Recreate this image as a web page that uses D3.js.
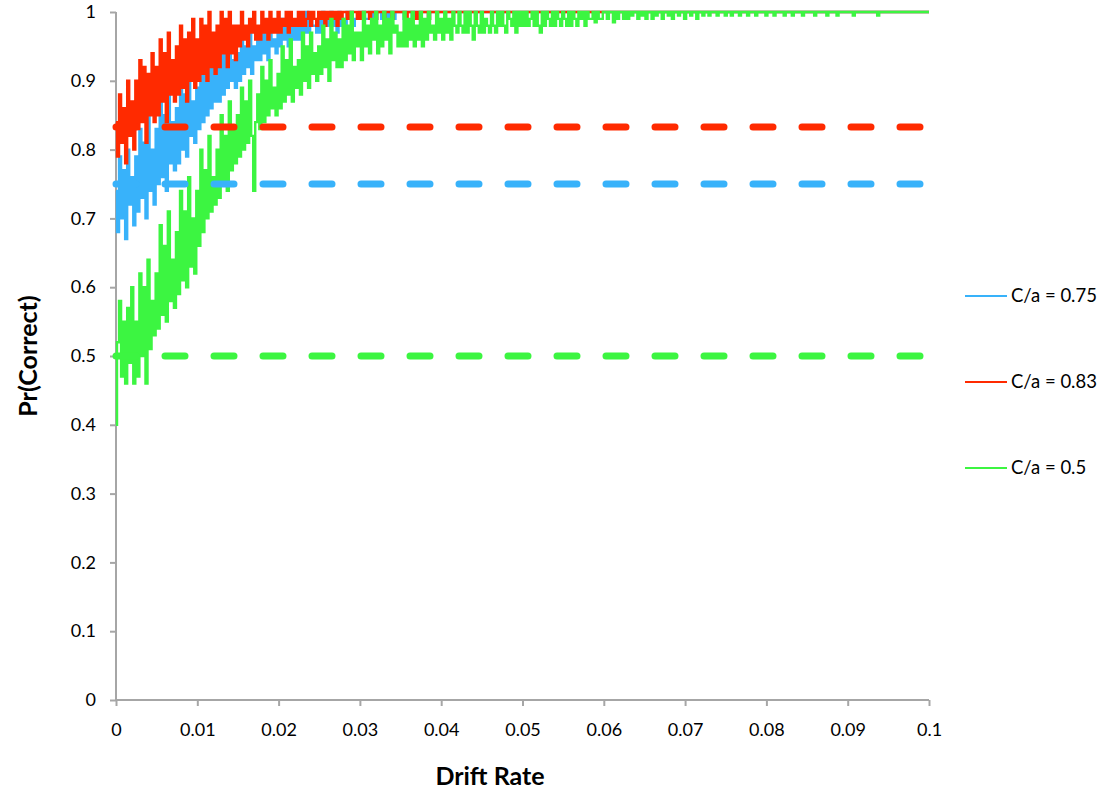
<!DOCTYPE html>
<html lang="en">
<head>
<meta charset="UTF-8">
<title>Pr(Correct) vs Drift Rate</title>
<script src="https://d3js.org/d3.v7.min.js"></script>
<style>
  body { margin: 0; background: #ffffff; }
  text { font-family: Lato, "Open Sans", sans-serif; fill: #000; }
  .axis-title { font-size: 25px; font-weight: bold; }
  .tick text { font-size: 18px; }
  .legend-label { font-size: 18.5px; }
</style>
</head>
<body>
<div id="chart"></div>
<script>
// x ticks and y ticks
const xTicks = [0, 0.01, 0.02, 0.03, 0.04, 0.05, 0.06, 0.07, 0.08, 0.09, 0.1];
const yTicks = [0, 0.1, 0.2, 0.3, 0.4, 0.5, 0.6, 0.7, 0.8, 0.9, 1];

// series, in drawing / legend order
const seriesNames = ["C/a = 0.75", "C/a = 0.83", "C/a = 0.5"];
const seriesColors = ["#38b2fa", "#ff2a00", "#3cf541"];
const thresholds = [0.75, 0.833, 0.5];

// dense samples every 0.00025 starting at 0
const denseStep = 0.00025;
const blueVals = [
  .74,.68,.79,.70,.77,.67,.80,.72,.76,.69,
  .79,.71,.83,.73,.81,.70,.85,.74,.80,.72,
  .83,.75,.87,.76,.85,.74,.88,.78,.84,.77,
  .86,.78,.90,.80,.88,.79,.91,.82,.87,.81,
  .89,.83,.93,.84,.91,.85,.94,.86,.92,.87,
  .92,.87,.95,.88,.94,.89,.96,.90,.93,.89,
  .94,.90,.96,.91,.95,.92,.97,.91,.95,.93,
  .96,.93,.98,.94,.97,.93,.98,.95,.96,.94,
  .97,.95,.99,.96,.98,.95,.99,.96,.98,.96,
  .98,.96,.99,.97,1,.97,.99,.98,.98,.97,
  .99,.97,1,.98,.99,.98,1,.98,.99,.97,
  1,.98,.99,.98,1,.99,1,.98,.99,.99,
  1,.99,1,.99,.99,1,.99,1,.99,1,
  1,.99,1,1,.99,1,1,.99,1,1,
  1,1,.99,1,1,1,.99,1,1,1,
  1,1,1,1,.99,1,1,1,1,1,
  1
];
const redVals = [
  .84,.79,.88,.81,.86,.78,.90,.82,.87,.80,
  .90,.83,.93,.84,.92,.81,.91,.85,.94,.84,
  .92,.85,.96,.87,.94,.84,.97,.88,.93,.87,
  .95,.88,.98,.89,.96,.87,.97,.90,.99,.89,
  .96,.90,.99,.91,.98,.90,1,.92,.97,.91,
  .98,.92,1,.94,.99,.92,1,.94,.98,.93,
  .98,.95,1,.96,.98,.95,.99,.97,1,.96,
  .98,.96,1,.97,.99,.96,1,.97,.99,.97,
  1,.97,.99,.98,1,.97,1,.98,.99,.98,
  1,.98,1,.98,.99,1,.98,1,.99,.98,
  1,.99,1,.98,1,.99,1,.99,1,.98,
  1,.99,1,1,.99,1,.99,1,1,.99,
  1,.99,1,1,1,.99,1,1,.99,1,
  1,1,.99,1,1,1,.99,1,1,1,
  1,1,1,.99,1,1,1,1,.99,1,
  1,1,1,1,.99,1,1,1,1,1,
  1
];
const greenVals = [
  .40,.52,.58,.47,.55,.46,.57,.49,.60,.46,
  .55,.47,.62,.50,.60,.46,.64,.51,.58,.53,
  .62,.54,.69,.56,.66,.55,.71,.58,.64,.57,
  .68,.59,.74,.61,.71,.60,.76,.63,.70,.62,
  .74,.66,.80,.68,.77,.70,.82,.71,.76,.72,
  .80,.73,.85,.75,.82,.74,.87,.77,.83,.78,
  .85,.79,.89,.80,.87,.81,.90,.82,.74,.84,
  .88,.83,.92,.84,.90,.85,.93,.86,.89,.85,
  .91,.86,.95,.87,.93,.88,.96,.87,.92,.89,
  .93,.88,.97,.90,.95,.89,.97,.91,.94,.90,
  .95,.91,.98,.92,.96,.90,.99,.93,.97,.92,
  .96,.92,.99,.93,.98,.94,1,.93,.97,.95,
  .97,.93,1,.95,.98,.94,.99,.96,1,.94,
  .98,.95,1,.96,.99,.94,1,.97,.98,.95,
  .97,.95,1,.95,.99,.96,1,.95,.98,.96,
  1,.95,.99,.96,1,.97,.98,.96,1,.97,
  .99,.96,1,.97,.99,.96,1,.98,.97,1,
  .98,.97,1,.97,1,.98,.96,1,.98,.97,
  1,.97,.99,.98,.97,1,.98,.97,1,.98,
  1,.98,.97,1,.99,.98,1,.97,1,.98,
  1,.98,1,.98,.99,1,.98,1,.98,.97,
  1,.98,1,.99,.98,1,.98,1,.99,.98,
  1,.99,.98,1,.98,1,.99,.98,1,.99,
  1,.98,1,.99,.99,1,.985,1,.99,.99,
  1
];

// tails after the dense part
const blueTailStart = 0.045, blueTailStep = 0.005;
const blueTail = [1,1,1,1,1,1,1,1,1,1,1,1];
const redTailStart = 0.045, redTailStep = 0.005;
const redTail = [1,1,1,1,1,1,1,1,1,1,1,1];
const greenTailStart = 0.06025, greenTailStep = 0.00025;
const greenTail = [
  1,.99,1,1,.985,1,.99,1,1,.99,
  1,.99,1,.995,1,1,.99,1,.995,1,
  .99,1,1,.99,1,.995,1,1,.99,1,
  1,.995,1,.99,1,1,.995,1,1,.99,
  1,1,.995,1,1,.99,1,1,.995,1,
  1,.995,1,1,1,.995,1,1,1,.995,
  1,1,.995,1,1,1,.995,1,1,1,
  .995,1,1,1,.995,1,1,1,1,.995,
  1,1,1,.995,1,1,1,1,.995,1,
  1,1,.995,1,1,1,1,.995,1,1,
  1,1,1,.995,1,1,1,1,1,.995,
  1,1,1,1,.995,1,1,1,1,1,
  1,1,.995,1,1,1,1,1,1,1,
  1,1,1,1,.995,1,1,1,1,1,
  1,1,1,1,1,1,1,1,1,1,
  1,1,1,1,1,1,1,1,1,1
];

function buildSeries(dense, tail, tailStart, tailStep) {
  return dense.map((v, i) => [i * denseStep, v])
    .concat(tail.map((v, i) => [tailStart + i * tailStep, v]));
}
const seriesData = [
  buildSeries(blueVals, blueTail, blueTailStart, blueTailStep),
  buildSeries(redVals, redTail, redTailStart, redTailStep),
  buildSeries(greenVals, greenTail, greenTailStart, greenTailStep)
];

// layout
const W = 1106, H = 795;
const margin = { top: 12, left: 116, right: 177, bottom: 95 };
const width = W - margin.left - margin.right;
const height = H - margin.top - margin.bottom;
const axisColor = "#a6a6a6";

const svg = d3.select("#chart").append("svg")
  .attr("width", W)
  .attr("height", H)
  .style("display", "block");

svg.append("rect").attr("width", W).attr("height", H).attr("fill", "#fff");

const g = svg.append("g").attr("transform", `translate(${margin.left},${margin.top})`);

const x = d3.scaleLinear().domain([0, 0.1]).range([0, width]);
const y = d3.scaleLinear().domain([0, 1]).range([height, 0]);

// axes
const yAxis = g.append("g")
  .call(d3.axisLeft(y).tickValues(yTicks).tickSize(6).tickPadding(14).tickFormat(d3.format("~g")));
const xAxis = g.append("g")
  .attr("transform", `translate(0,${height})`)
  .call(d3.axisBottom(x).tickValues(xTicks).tickSize(6).tickPadding(17).tickFormat(d3.format("~g")));

[yAxis, xAxis].forEach(a => {
  a.select(".domain").attr("stroke", axisColor).attr("stroke-width", 2);
  a.selectAll(".tick line").attr("stroke", axisColor).attr("stroke-width", 2);
  a.selectAll(".tick text").style("font-family", "Lato, sans-serif").style("font-size", "18px").attr("fill", "#000");
});
// axis lines without the outer tick ends
yAxis.select(".domain").attr("d", `M0,0V${height}`);
xAxis.select(".domain").attr("d", `M0,0H${width}`);

// noisy series, drawn as vertical steps like the dense original
const line = d3.line().curve(d3.curveStep).x(d => x(d[0])).y(d => y(d[1]));
seriesData.forEach((pts, i) => {
  g.append("path")
    .datum(pts)
    .attr("fill", "none")
    .attr("stroke", seriesColors[i])
    .attr("stroke-width", 2.4)
    .attr("d", line);
});

// dashed threshold lines
thresholds.forEach((t, i) => {
  g.append("line")
    .attr("x1", x(0)).attr("x2", x(0.1))
    .attr("y1", y(t)).attr("y2", y(t))
    .attr("stroke", seriesColors[i])
    .attr("stroke-width", 7)
    .attr("stroke-linecap", "round")
    .attr("stroke-dasharray", "20,29");
});

// axis titles
svg.append("text")
  .attr("class", "axis-title")
  .attr("x", 490).attr("y", 785)
  .attr("text-anchor", "middle")
  .text("Drift Rate");

svg.append("text")
  .attr("class", "axis-title")
  .attr("transform", `translate(37,${margin.top + y(0.5)}) rotate(-90)`)
  .attr("text-anchor", "middle")
  .text("Pr(Correct)");

// legend
const legendY = [296, 382, 468];
seriesNames.forEach((name, i) => {
  const lg = svg.append("g").attr("transform", `translate(965,${legendY[i]})`);
  lg.append("line")
    .attr("x1", 0).attr("x2", 42)
    .attr("stroke", seriesColors[i])
    .attr("stroke-width", 2.2);
  lg.append("text")
    .attr("class", "legend-label")
    .attr("x", 46).attr("dy", "0.35em")
    .text(name);
});
</script>
</body>
</html>
